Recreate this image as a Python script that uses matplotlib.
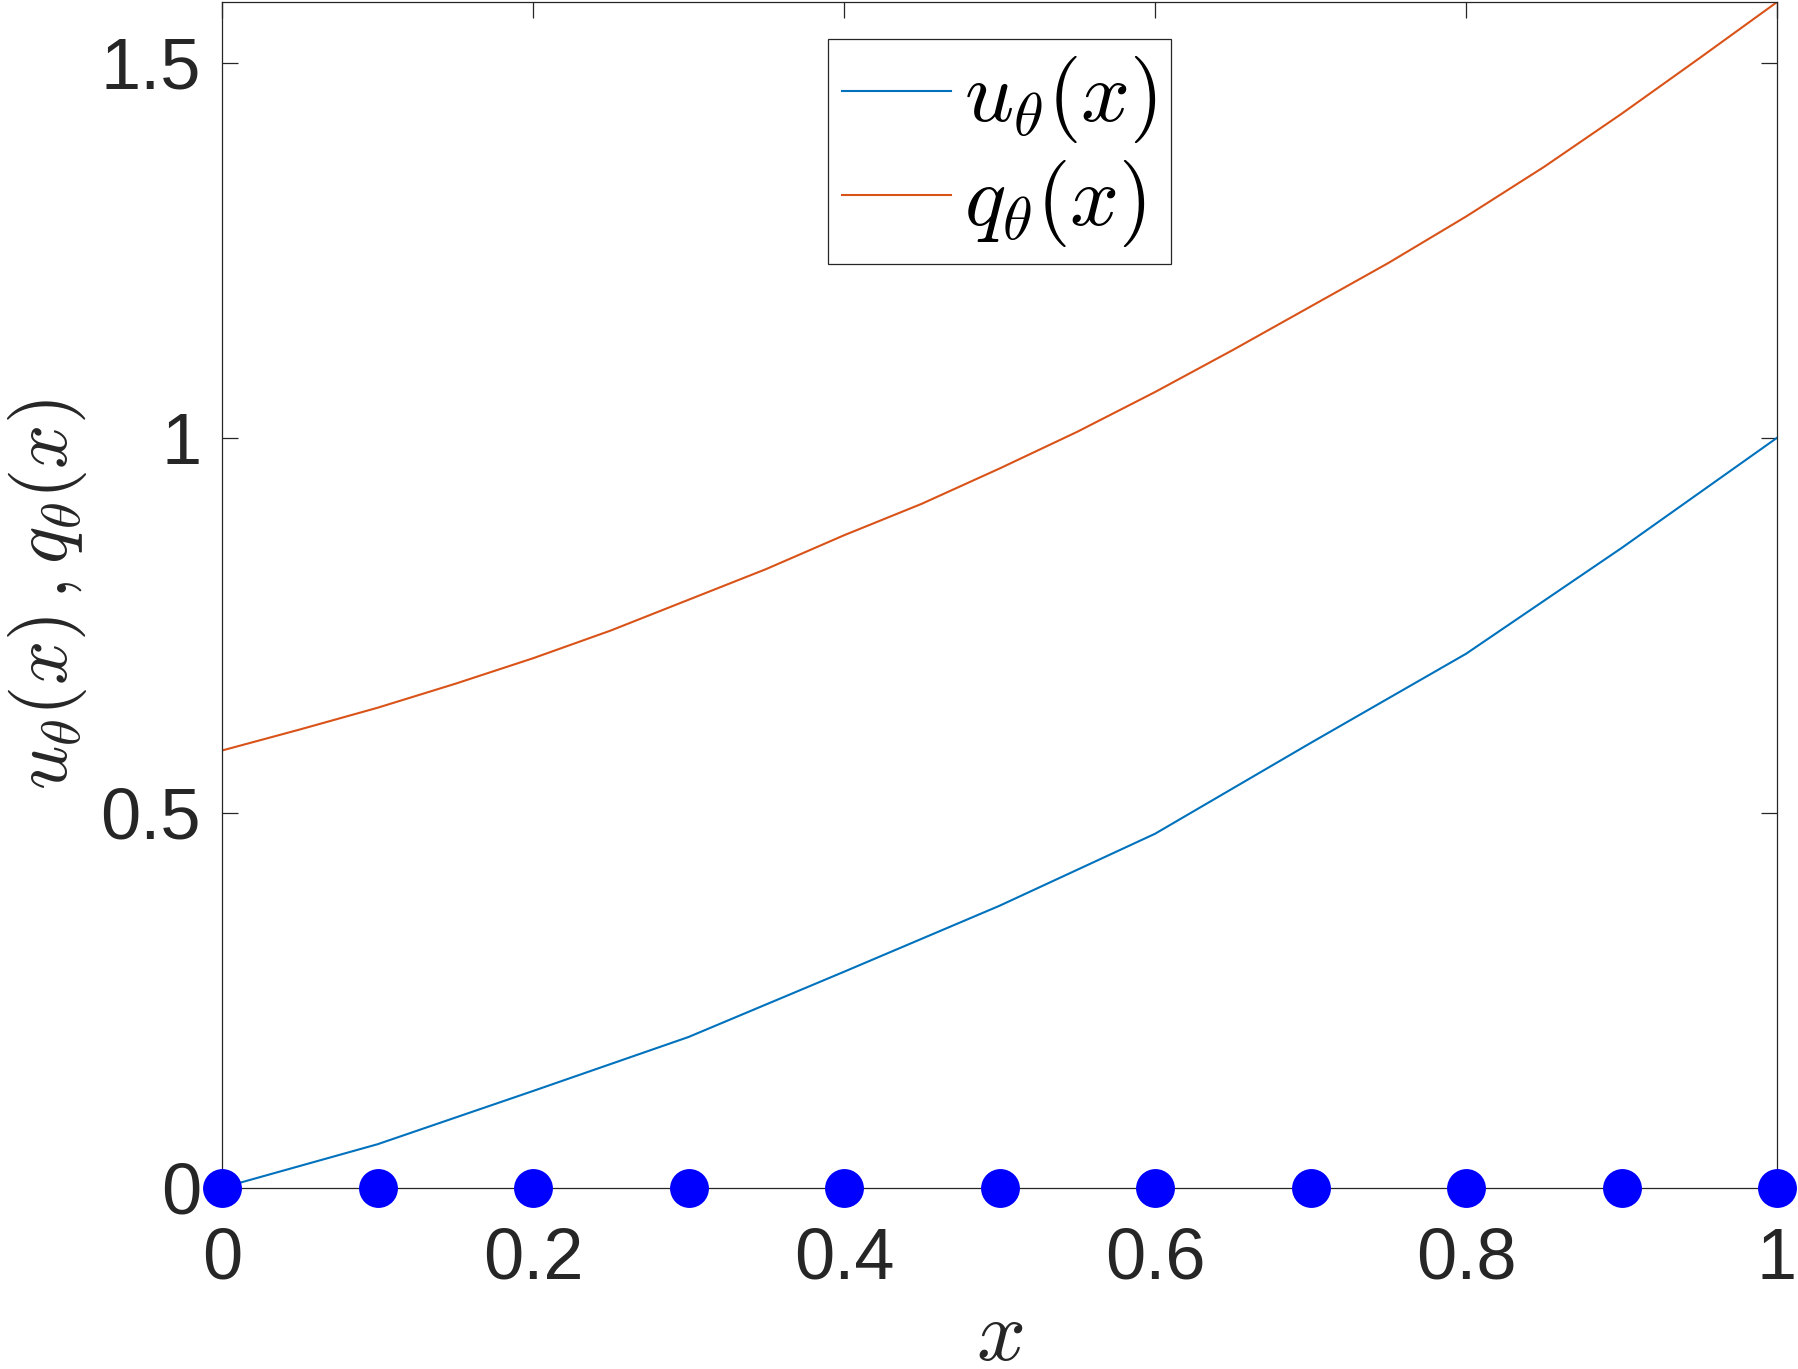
# Recreate the u_theta / q_theta plot (MATLAB style)
import matplotlib
matplotlib.use('Agg')
import matplotlib.pyplot as plt

# data
x_nodes = [0.0, 0.1, 0.2, 0.3, 0.4, 0.5, 0.6, 0.7, 0.8, 0.9, 1.0]
u_theta = [0.0, 0.058, 0.129, 0.201, 0.288, 0.376, 0.472, 0.593, 0.712, 0.853, 1.0]
dots_y = [0.0] * len(x_nodes)

# q looks smooth, so it was read at a finer step
x_fine = [0.0, 0.05, 0.1, 0.15, 0.2, 0.25, 0.3, 0.35, 0.4, 0.45, 0.5,
          0.55, 0.6, 0.65, 0.7, 0.75, 0.8, 0.85, 0.9, 0.95, 1.0]
q_theta = [0.583, 0.611, 0.640, 0.672, 0.706, 0.743, 0.784, 0.825, 0.870, 0.912, 0.959,
           1.008, 1.061, 1.117, 1.175, 1.233, 1.295, 1.361, 1.432, 1.506, 1.581]

xtick_vals = [0, 0.2, 0.4, 0.6, 0.8, 1]
xtick_labels = ['0', '0.2', '0.4', '0.6', '0.8', '1']
ytick_vals = [0, 0.5, 1, 1.5]
ytick_labels = ['0', '0.5', '1', '1.5']

plt.rcParams['font.family'] = ['Liberation Sans', 'DejaVu Sans']
plt.rcParams['mathtext.fontset'] = 'cm'

dark = '#262626'

fig = plt.figure(figsize=(17.99, 13.69), dpi=100)
ax = fig.add_axes([0.1234, 0.1324, 0.8644, 0.8661])

ax.plot(x_nodes, u_theta, color='#0072BD', lw=1.5, label=r'$u_\theta(x)$')
ax.plot(x_fine, q_theta, color='#D95319', lw=1.5, label=r'$q_\theta(x)$')
ax.plot(x_nodes, dots_y, 'o', color=(0, 0, 1), markersize=28, markeredgewidth=0,
        clip_on=False, zorder=5)

ax.set_xlim(0, 1)
ax.set_ylim(0, max(q_theta))
ax.set_xticks(xtick_vals)
ax.set_xticklabels(xtick_labels)
ax.set_yticks(ytick_vals)
ax.set_yticklabels(ytick_labels)

ax.tick_params(direction='in', length=11.5, width=0.9, color=dark,
               labelcolor=dark, labelsize=52, top=True, right=True)
ax.tick_params(axis='x', pad=28)
ax.tick_params(axis='y', pad=15)
for s in ax.spines.values():
    s.set_color(dark)
    s.set_linewidth(0.9)

ax.set_xlabel(r'$x$', fontsize=62, color=dark, labelpad=3)
ax.set_ylabel(r'$u_\theta(x)\,,q_\theta(x)$', fontsize=56, color=dark, labelpad=8)

leg = ax.legend(loc='upper center', bbox_to_anchor=(0.5, 0.9685), fontsize=62,
                handlelength=1.26, handletextpad=0.15, labelspacing=0.15,
                borderpad=0.17, borderaxespad=0, fancybox=False, framealpha=1)
leg.get_frame().set_edgecolor(dark)
leg.get_frame().set_linewidth(0.9)

fig.savefig('out.png', dpi=100)
